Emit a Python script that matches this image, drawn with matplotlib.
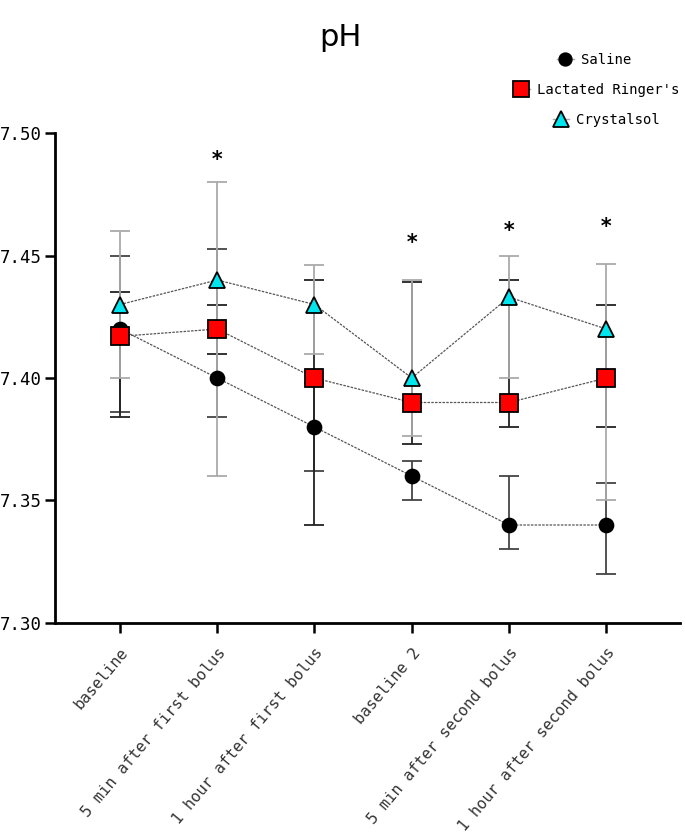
import numpy as np
import matplotlib
matplotlib.use("Agg")
import matplotlib.pyplot as plt
from matplotlib.lines import Line2D

# data
timepoints = ["baseline", "5 min after first bolus", "1 hour after first bolus",
              "baseline 2", "5 min after second bolus", "1 hour after second bolus"]

saline = [7.420, 7.400, 7.380, 7.360, 7.340, 7.340]
saline_lo = [7.386, 7.384, 7.362, 7.350, 7.330, 7.320]
saline_hi = [7.450, 7.4525, 7.398, 7.366, 7.360, 7.357]

ringer = [7.417, 7.420, 7.400, 7.390, 7.390, 7.400]
ringer_lo = [7.384, 7.410, 7.340, 7.373, 7.380, 7.380]
ringer_hi = [7.435, 7.430, 7.440, 7.439, 7.440, 7.430]

crystal = [7.430, 7.440, 7.430, 7.400, 7.433, 7.420]
crystal_lo = [7.400, 7.360, 7.410, 7.3765, 7.400, 7.350]
crystal_hi = [7.460, 7.480, 7.446, 7.440, 7.450, 7.4465]

# significance stars: (index, y)
star_idx = [1, 3, 4, 5]
star_y = [7.489, 7.455, 7.460, 7.4615]

mono = "DejaVu Sans Mono"

fig = plt.figure(figsize=(6.85, 8.35), dpi=100)
ax = fig.add_axes([0.080, 0.2539, 0.913, 0.5868])
x = np.arange(len(timepoints))

series = [
    (saline, saline_lo, saline_hi, "o", "black", 10, "#444444", "Saline"),
    (ringer, ringer_lo, ringer_hi, "s", "#ff0000", 13, "#222222", "Lactated Ringer's"),
    (crystal, crystal_lo, crystal_hi, "^", "#00e5ee", 12, "#aaaaaa", "Crystalsol"),
]

handles = []
for vals, lo, hi, mk, col, ms, ecol, lab in series:
    vals = np.array(vals)
    yerr = [vals - np.array(lo), np.array(hi) - vals]
    ax.errorbar(x, vals, yerr=yerr, fmt="none", ecolor=ecol, elinewidth=1.3,
                capsize=7, capthick=1.3, zorder=2)
    ax.plot(x, vals, linestyle=(0, (2, 1)), color="#555555", lw=0.9, zorder=3)
    ax.plot(x, vals, linestyle="none", marker=mk, markersize=ms,
            markerfacecolor=col, markeredgecolor="black", markeredgewidth=1.3, zorder=4)
    handles.append(Line2D([], [], marker=mk, markersize=ms - 1, markerfacecolor=col,
                          markeredgecolor="black", markeredgewidth=1.3,
                          color="#aaaaaa", lw=1, label=lab))

for i, yv in zip(star_idx, star_y):
    ax.text(x[i], yv, "*", ha="center", va="center", fontsize=15,
            fontweight="bold", family=mono)

ax.set_xlim(-0.67, 5.76)
ax.set_ylim(7.30, 7.50)
ax.set_yticks([7.30, 7.35, 7.40, 7.45, 7.50])
ax.set_yticklabels(["7.30", "7.35", "7.40", "7.45", "7.50"], family=mono, fontsize=12.5)
ax.set_xticks(x)
ax.set_xticklabels(timepoints, rotation=50, ha="right", rotation_mode="anchor",
                   family=mono, fontsize=11.2, color="#333333")

for s in ["top", "right"]:
    ax.spines[s].set_visible(False)
ax.spines["left"].set_linewidth(2)
ax.spines["bottom"].set_linewidth(2)
ax.tick_params(axis="both", direction="out", length=7, width=1.8)
ax.tick_params(axis="y", pad=2)
ax.tick_params(axis="x", pad=9)

fig.text(0.497, 0.972, "pH", ha="center", va="top", fontsize=22)

# one legend per entry so each row sits centred like the original
leg_pos = [(0.867, 0.928), (0.870, 0.892), (0.885, 0.856)]
for h, (lx, ly) in zip(handles, leg_pos):
    fig.legend(handles=[h], loc="center", bbox_to_anchor=(lx, ly), frameon=False,
               prop={"family": mono, "size": 10}, handlelength=1.2,
               handletextpad=0.5, borderpad=0)

fig.savefig("out.png", dpi=100)
